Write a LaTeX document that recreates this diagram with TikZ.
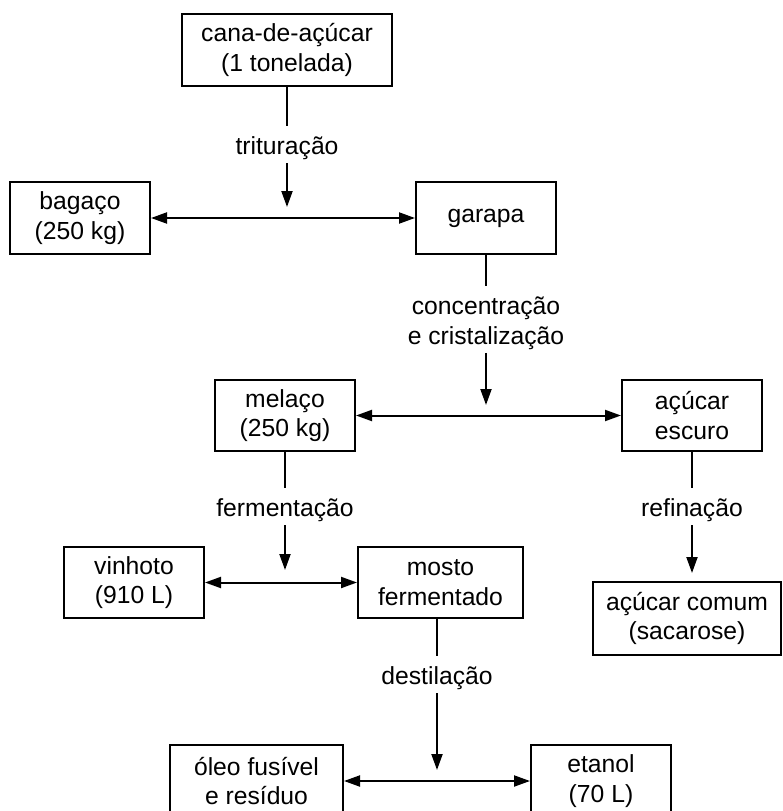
\documentclass[tikz,border=0pt]{standalone}
\usepackage{fontspec}
\setmainfont{Liberation Sans}
\usetikzlibrary{arrows.meta}

\tikzset{
    box/.style={draw, line width=2pt, inner sep=0pt, minimum width=140pt, minimum height=72pt, align=center},
    lab/.style={inner sep=0pt, align=center},
    stem/.style={line width=2pt, shorten >=11pt},
    flow/.style={line width=2pt, -{Triangle[length=16pt,width=11pt]}, shorten <=3pt},
    both/.style={line width=2pt, {Triangle[length=16pt,width=11pt]}-{Triangle[length=16pt,width=11pt]}}
}

\begin{document}
\begin{tikzpicture}[x=1pt, y=1pt, font=\fontsize{24.7}{29.5}\selectfont]
            \useasboundingbox (0, 0) rectangle (783, -811);
            \clip (0, 0) rectangle (783, -811);

            \node[box, minimum width=210pt] (cana) at (287, -50) {cana-de-açúcar\\(1 tonelada)};
            \node[box] (bag) at (80, -218) {bagaço\\(250 kg)};
            \node[box] (gar) at (486, -218) {garapa};
            \node[box, minimum height=71pt] (mel) at (285, -415.5) {melaço\\(250 kg)};
            \node[box, minimum height=71pt] (esc) at (692, -415.5) {açúcar\\escuro};
            \node[box, minimum height=71pt] (vin) at (134, -582.5) {vinhoto\\(910 L)};
            \node[box, minimum width=165pt, minimum height=71pt] (mos) at (440.5, -582.5) {mosto\\fermentado};
            \node[box, minimum width=188pt, minimum height=73pt] (com) at (687, -618.5) {açúcar comum\\(sacarose)};
            \node[box, minimum width=173pt] (ole) at (256.5, -781) {óleo fusível\\e resíduo};
            \node[box] (eta) at (601, -781) {etanol\\(70 L)};

            \node[lab] (trit) at (287, -148.5) {trituração};
            \node[lab] (conc) at (486, -323.5) {concentração\\e cristalização};
            \node[lab] (ferm) at (285, -510.5) {fermentação};
            \node[lab] (ref) at (692, -510.5) {refinação};
            \node[lab] (dest) at (437, -678.5) {destilação};

            \coordinate (j1) at (287, -207);
            \coordinate (j2) at (486, -405);
            \coordinate (j3) at (285, -570);
            \coordinate (j4) at (692, -573);
            \coordinate (j5) at (437, -770);

            \draw[stem] (cana) -- (trit);
            \draw[flow] (trit) -- (j1);
            \draw[both] (bag) -- (gar);

            \draw[stem] (gar) -- (conc);
            \draw[flow] (conc) -- (j2);
            \draw[both] (mel) -- (esc);

            \draw[stem] (mel) -- (ferm);
            \draw[flow] (ferm) -- (j3);
            \draw[both] (vin) -- (mos);

            \draw[stem] (esc) -- (ref);
            \draw[flow] (ref) -- (j4);

            \draw[stem] (dest |- mos.south) -- (dest);
            \draw[flow] (dest) -- (j5);
            \draw[both] (ole) -- (eta);
        \end{tikzpicture}
\end{document}
